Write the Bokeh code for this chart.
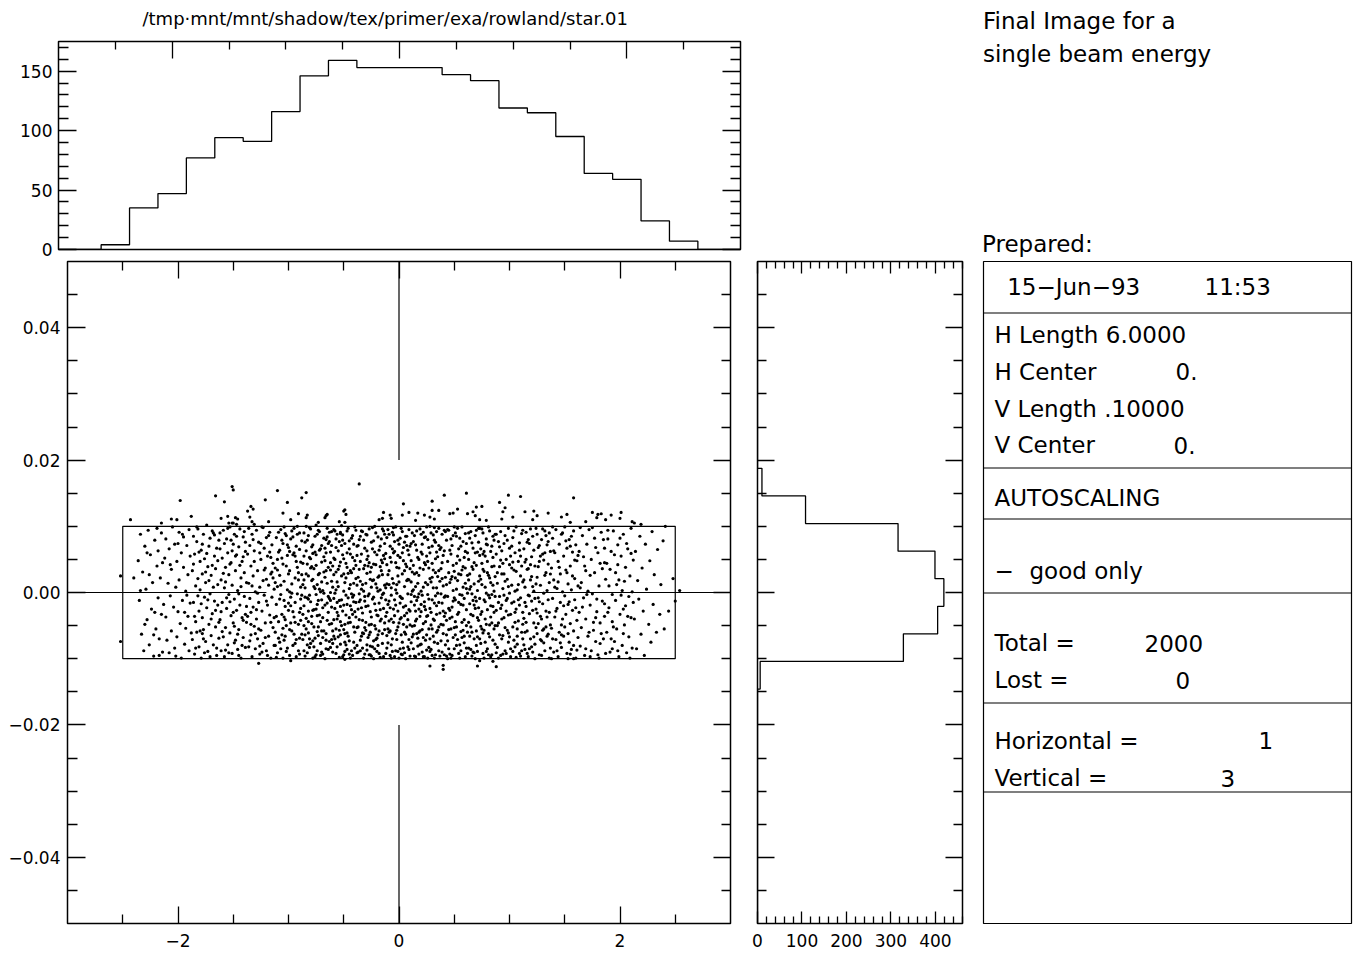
from bokeh.plotting import figure
from bokeh.layouts import column, row
from bokeh.models import Range1d, LinearAxis, FixedTicker, CustomJSTickFormatter
from bokeh.core.properties import value
from bokeh.embed import file_html
from bokeh.resources import INLINE

FONT = "DejaVu Sans"

# ---------------- data ----------------
plot_title = "/tmp·mnt/mnt/shadow/tex/primer/exa/rowland/star.01"
header_lines = ["Final Image for a", "single beam energy"]
prepared_label = "Prepared:"
info_date = "15−Jun−93"
info_time = "11:53"
info_labels = ["H Length 6.0000", "H Center", "V Length .10000", "V Center", "AUTOSCALING",
               "−", "Total =", "Lost =", "Horizontal =", "Vertical ="]
info_values = ["", "0.", "", "0.", "", "good only", "2000", "0", "1", "3"]

# top histogram (horizontal coordinate)
x_bin_centers = [-3.0, -2.75, -2.5, -2.25, -2.0, -1.75, -1.5, -1.25, -1.0, -0.75, -0.5, -0.25, 0.0,
                 0.25, 0.5, 0.75, 1.0, 1.25, 1.5, 1.75, 2.0, 2.25, 2.5, 2.75, 3.0]
x_bin_counts = [0, 0, 4, 35, 47, 77, 94, 91, 116, 146, 159, 153, 153, 153, 147, 142, 119, 115, 95, 64,
                59, 24, 7, 0, 0]
x_bin_width = 0.25

# right histogram (vertical coordinate)
y_bin_centers = [-0.05, -0.045833, -0.041667, -0.0375, -0.033333, -0.029167, -0.025, -0.020833,
                 -0.016667, -0.0125, -0.008333, -0.004167, 0.0, 0.004167, 0.008333, 0.0125, 0.016667,
                 0.020833, 0.025, 0.029167, 0.033333, 0.0375, 0.041667, 0.045833, 0.05]
y_bin_counts = [0, 0, 0, 0, 0, 0, 0, 0, 0, 6, 328, 405, 419, 399, 316, 108, 10, 0, 0, 0, 0, 0, 0, 0, 0]
y_bin_width = 0.0041667

# plot limits (H length 6, V length 0.1, centred on 0)
h_limits = [-3.0, 3.0]
v_limits = [-0.05, 0.05]
# source footprint box and crosshair gaps
box_x = [-2.5, 2.5]
box_y = [-0.01, 0.01]
cross_x_gap = 1.2
cross_y_gap = 0.02

# ray positions: x in units of 0.01, y in units of 0.0001
scatter_points = [
(-252,25),(-252,-74),(-240,22),(-243,110),
(-236,48),(-235,-12),(-234,88),(-233,-63),(-232,31),(-231,-88),(-230,70),(-229,5),(-228,-41),(-227,94),(-226,-79),(-225,57),(-224,-25),(-223,15),(-222,-96),(-221,79),(-220,-55),(-219,40),(-218,-8),(-218,63),(-217,-70),(-216,22),(-215,-33),(-215,90),(-214,-90),(-214,45),(-213,-18),(-230,-48),(-226,27),(-222,-64),(-219,97),(-217,-95),(-234,3),(-228,60),(-221,-30),(-215,105),
(-212,52),(-211,-37),(-211,81),(-210,-72),(-209,14),(-208,-91),(-208,66),(-207,-5),(-206,35),(-206,-58),(-205,99),(-204,-22),(-203,73),(-203,-84),(-202,8),(-201,47),(-201,-67),(-200,-29),(-199,91),(-199,19),(-198,-47),(-197,60),(-197,-99),(-196,-12),(-195,38),(-195,84),(-194,-78),(-193,2),(-193,-54),(-192,71),(-191,-36),(-191,27),(-190,95),(-190,-88),(-189,-16),(-189,55),(-188,-61),(-207,42),(-202,-96),(-196,88),(-192,-4),(-206,111),(-201,110),(-198,139),(-188,115),(-200,74),(-194,-30),
(-187,33),(-187,-71),(-186,85),(-186,-15),(-185,-93),(-185,58),(-184,10),(-184,-44),(-183,77),(-183,-60),(-182,21),(-182,96),(-181,-28),(-181,-82),(-180,47),(-180,4),(-179,-99),(-179,64),(-178,-38),(-178,28),(-177,88),(-177,-56),(-176,-7),(-176,51),(-175,-74),(-175,15),(-174,102),(-174,-23),(-173,39),(-173,-89),(-172,70),(-172,-48),(-171,-2),(-171,82),(-170,-65),(-170,26),(-169,-32),(-169,93),(-168,8),(-168,-79),(-167,55),(-167,-13),(-166,146),(-166,-52),(-166,36),(-165,-95),(-165,67),(-164,-19),(-164,12),(-163,-69),(-163,79),(-186,43),(-184,-84),(-182,-5),(-180,-58),(-178,73),(-176,-91),(-174,59),(-172,18),(-170,-40),(-168,90),(-166,-27),(-164,48),(-185,-36),(-181,61),(-177,-70),(-173,-11),(-169,41),(-165,-84),(-183,99),(-179,-17),(-175,31),(-171,-97),(-167,87),(-163,-45),(-178,-62),
(-161,112),(-158,137),(-155,115),(-154,105),(-151,160),(-151,105),(-150,155),(-150,105),(-148,113),(-147,103),(-146,111),
(-162,-41),(-162,66),(-161,-88),(-161,19),(-160,52),(-160,-15),(-159,-67),(-159,94),(-158,7),(-158,-97),(-157,38),(-157,-53),(-156,81),(-156,-24),(-155,-79),(-155,60),(-154,-3),(-154,27),(-153,-61),(-153,99),(-152,-35),(-152,45),(-151,-92),(-151,11),(-150,73),(-150,-46),(-149,-10),(-149,88),(-148,-72),(-148,33),(-147,-27),(-147,57),(-146,-86),(-146,3),(-145,69),(-145,-56),(-144,-19),(-144,96),(-143,22),(-143,-99),(-142,47),(-142,-38),(-141,-68),(-141,84),(-140,-6),(-140,30),(-139,-83),(-139,62),(-138,-45),(-138,15),(-162,90),(-160,-59),(-158,74),(-156,-8),(-154,-91),(-152,79),(-150,-30),(-148,55),(-146,-63),(-144,41),(-142,-80),(-140,92),(-138,-21),(-161,-29),(-159,29),(-157,-87),(-155,97),(-153,-14),(-151,63),(-149,-51),(-147,85),(-145,-95),(-143,9),(-141,-42),(-139,76),(-157,16),(-153,43),(-149,-76),(-145,-2),(-141,54),(-139,-33),
(-137,123),(-135,114),(-134,130),(-133,107),(-132,126),(-131,103),(-121,140),(-118,107),(-127,-107),
(-137,58),(-137,-36),(-136,-82),(-136,14),(-135,71),(-135,-9),(-134,-64),(-134,40),(-133,-97),(-133,88),(-132,-22),(-132,25),(-131,-51),(-131,63),(-130,1),(-130,-85),(-129,94),(-129,-40),(-128,33),(-128,-70),(-127,76),(-127,-15),(-126,8),(-126,-93),(-125,50),(-125,-57),(-124,-28),(-124,99),(-123,18),(-123,-77),(-122,67),(-122,-4),(-121,-46),(-121,37),(-120,-88),(-120,83),(-119,-19),(-119,55),(-118,-66),(-118,11),(-117,91),(-117,-34),(-116,28),(-116,-99),(-115,-7),(-115,72),(-114,-53),(-114,44),(-113,-80),(-113,5),(-136,97),(-134,-30),(-132,80),(-130,-62),(-128,-1),(-126,60),(-124,-90),(-122,34),(-120,-13),(-118,86),(-116,-45),(-114,22),(-135,-73),(-131,47),(-127,-55),(-123,98),(-119,-95),(-115,31),(-133,10),(-129,-26),(-125,74),(-121,-68),(-117,61),(-113,-38),(-126,-81),(-120,20),(-116,53),(-134,-48),
(-110,154),(-105,120),(-101,136),(-98,110),(-91,119),(-88,143),(-98,-103),
(-112,-60),(-112,37),(-111,83),(-111,-18),(-110,-91),(-110,9),(-109,61),(-109,-44),(-108,-75),(-108,26),(-107,95),(-107,-3),(-106,-33),(-106,52),(-105,-99),(-105,74),(-104,-12),(-104,17),(-103,-66),(-103,89),(-102,40),(-102,-50),(-101,-84),(-101,4),(-100,68),(-100,-27),(-99,-95),(-99,33),(-98,81),(-98,-7),(-97,-58),(-97,13),(-96,57),(-96,-80),(-95,-37),(-95,97),(-94,22),(-94,-15),(-93,-71),(-93,47),(-92,88),(-92,-2),(-91,-48),(-91,30),(-90,-93),(-90,65),(-89,-24),(-89,8),(-88,-63),(-88,78),(-111,-36),(-109,91),(-107,-85),(-105,43),(-103,-21),(-101,72),(-99,-56),(-97,-1),(-95,60),(-93,-97),(-91,19),(-89,-42),(-110,50),(-108,-10),(-106,-64),(-104,99),(-102,-89),(-100,28),(-98,-46),(-96,84),(-94,-77),(-92,38),(-90,-30),(-88,-4),(-112,15),(-109,-69),(-106,79),(-103,-41),(-100,-16),(-97,93),(-94,55),(-91,-88),(-88,27),(-111,-98),(-108,64),(-105,-54),(-102,86),(-99,1),(-96,-29),(-93,70),(-90,-69),(-89,46),(-112,-80),(-107,11),(-104,-37),(-101,56),(-98,-20),(-95,-63),(-92,100),(-89,-10),(-110,34),(-104,-72),(-99,62),(-94,-45),(-90,90),
(-84,151),(-84,113),(-83,117),(-75,102),(-73,106),(-67,113),(-66,116),(-65,118),
(-87,44),(-87,-71),(-86,-20),(-86,90),(-85,7),(-85,-96),(-84,63),(-84,-39),(-83,-8),(-83,79),(-82,-61),(-82,25),(-81,98),(-81,-83),(-80,-14),(-80,51),(-79,-47),(-79,18),(-78,-99),(-78,72),(-77,-26),(-77,36),(-76,85),(-76,-69),(-75,-3),(-75,57),(-74,-88),(-74,12),(-73,-52),(-73,94),(-72,29),(-72,-34),(-71,-77),(-71,66),(-70,-11),(-70,46),(-69,-93),(-69,3),(-68,82),(-68,-58),(-67,-19),(-67,23),(-66,-85),(-66,60),(-65,-42),(-65,97),(-64,-6),(-64,38),(-63,-74),(-63,77),
(-87,-33),(-86,55),(-85,-64),(-84,28),(-83,-91),(-82,86),(-81,-4),(-80,-77),(-79,69),(-78,-27),(-77,9),(-76,-97),(-75,41),(-74,-59),(-73,-12),(-72,92),(-71,-44),(-70,16),(-69,-68),(-68,54),(-67,-100),(-66,33),(-65,-16),(-64,74),(-63,-48),
(-87,12),(-86,-88),(-85,76),(-84,-55),(-83,43),(-82,-10),(-81,-70),(-80,96),(-79,-36),(-78,20),(-77,-82),(-76,61),(-75,-25),(-74,88),(-73,-65),(-72,5),(-71,-95),(-70,71),(-69,-38),(-68,-1),(-67,48),(-66,-62),(-65,14),(-64,-86),(-63,91),
(-86,-50),(-84,100),(-82,-28),(-80,37),(-78,-73),(-76,6),(-74,-18),(-72,64),(-70,-90),(-68,31),(-66,80),(-64,-30),(-85,-7),(-81,53),(-77,-52),(-73,27),(-69,-23),(-65,84),(-83,-79),(-79,39),(-75,-94),(-71,1),(-67,67),(-63,-9),(-86,19),(-82,-44),(-78,59),(-74,-35),(-70,-58),(-66,-72),(-62,45),
(-54,107),(-50,123),(-49,125),(-49,106),(-48,118),(-49,-101),
(-62,-83),(-62,34),(-61,71),(-61,-22),(-60,-58),(-60,8),(-59,95),(-59,-41),(-58,-1),(-58,50),(-57,-92),(-57,81),(-56,-30),(-56,16),(-55,-67),(-55,63),(-54,-12),(-54,40),(-53,-78),(-53,89),(-52,25),(-52,-50),(-51,-97),(-51,57),(-50,-19),(-50,2),(-49,74),(-49,-62),(-48,-34),(-48,44),(-47,93),(-47,-86),(-46,-8),(-46,29),(-45,-73),(-45,66),(-44,-45),(-44,12),(-43,82),(-43,-26),(-42,-95),(-42,53),(-41,-4),(-41,36),(-40,-60),(-40,99),(-39,-15),(-39,21),(-38,-80),(-38,70),
(-62,61),(-61,-47),(-60,-90),(-59,27),(-58,-70),(-57,4),(-56,88),(-55,-35),(-54,-98),(-53,46),(-52,-11),(-51,79),(-50,-56),(-49,15),(-48,-79),(-47,-18),(-46,97),(-45,-38),(-44,58),(-43,-88),(-42,-7),(-41,73),(-40,-29),(-39,41),(-38,-53),
(-62,-12),(-61,92),(-60,40),(-59,-66),(-58,-24),(-57,68),(-56,-82),(-55,9),(-54,77),(-53,-44),(-52,101),(-51,-28),(-50,51),(-49,-89),(-48,22),(-47,-61),(-46,-46),(-45,6),(-44,-99),(-43,30),(-42,86),(-41,-75),(-40,48),(-39,-37),(-38,11),
(-61,17),(-59,-9),(-57,-55),(-55,35),(-53,-21),(-51,87),(-49,-75),(-47,60),(-45,-93),(-43,-2),(-41,-52),(-39,94),(-60,-77),(-56,-15),(-52,71),(-48,-4),(-44,33),(-40,-84),(-58,93),(-54,-57),(-50,28),(-46,-66),(-42,-33),(-38,-91),
(-62,0),(-59,52),(-56,-40),(-53,-64),(-50,-94),(-47,38),(-44,-20),(-41,14),(-38,56),(-61,-71),(-57,31),(-53,91),(-49,-48),(-45,78),(-41,-14),
(-36,164),(-18,110),(-15,112),(-14,121),
(-37,-52),(-37,23),(-36,80),(-36,-14),(-35,-88),(-35,47),(-34,5),(-34,-66),(-33,92),(-33,-31),(-32,-99),(-32,36),(-31,67),(-31,-6),(-30,-45),(-30,14),(-29,-79),(-29,87),(-28,-20),(-28,55),(-27,-94),(-27,-2),(-26,31),(-26,-60),(-25,76),(-25,-37),(-24,-10),(-24,98),(-23,-73),(-23,19),(-22,-50),(-22,61),(-21,-27),(-21,42),(-20,-89),(-20,7),(-19,84),(-19,-64),(-18,-16),(-18,25),(-17,-98),(-17,70),(-16,-40),(-16,49),(-15,-3),(-15,-77),(-14,93),(-14,-24),(-13,11),(-13,-56),
(-37,71),(-36,-41),(-35,-11),(-34,58),(-33,-84),(-32,2),(-31,-53),(-30,88),(-29,29),(-28,-68),(-27,45),(-26,-29),(-25,-96),(-24,66),(-23,-7),(-22,-85),(-21,13),(-20,57),(-19,-35),(-18,-92),(-17,39),(-16,81),(-15,-62),(-14,-1),(-13,51),
(-37,-90),(-36,35),(-35,-72),(-34,-23),(-33,12),(-32,79),(-31,-93),(-30,-57),(-29,63),(-28,-5),(-27,96),(-26,20),(-25,-48),(-24,-82),(-23,43),(-22,-17),(-21,90),(-20,-69),(-19,2),(-18,64),(-17,-43),(-16,-8),(-15,27),(-14,-97),(-13,74),
(-36,-2),(-34,93),(-32,-62),(-30,-21),(-28,40),(-26,-81),(-24,18),(-22,100),(-20,-34),(-18,-58),(-16,33),(-14,56),(-35,85),(-31,-13),(-27,-49),(-23,-100),(-19,23),(-15,45),(-33,-42),(-29,-87),(-25,8),(-21,-71),(-17,-26),(-13,-46),
(-37,-25),(-33,-61),(-29,50),(-25,38),(-21,-55),(-17,4),(-13,88),(-35,17),(-31,41),(-27,-64),(-23,78),(-19,-80),(-15,96),(-26,-94),
(-8,117),(-7,112),(3,117),(4,134),(9,121),
(-12,-36),(-12,59),(-11,13),(-11,-84),(-10,95),(-10,-18),(-9,-60),(-9,33),(-8,-95),(-8,70),(-7,-4),(-7,46),(-6,-70),(-6,21),(-5,87),(-5,-45),(-4,-11),(-4,62),(-3,-88),(-3,4),(-2,38),(-2,-57),(-1,-28),(-1,79),(0,-99),(0,16),(1,53),(1,-40),(2,-8),(2,97),(3,-75),(3,28),(4,-22),(4,68),(5,-91),(5,9),(6,43),(6,-63),(7,-31),(7,85),(8,-2),(8,-82),(9,57),(9,19),(10,-49),(10,-96),(11,74),(11,-14),(12,31),(12,-67),
(-12,-92),(-11,42),(-10,-55),(-9,88),(-8,-23),(-7,7),(-6,-89),(-5,60),(-4,-35),(-3,99),(-2,-71),(-1,25),(0,-46),(1,82),(2,-93),(3,-9),(4,48),(5,-60),(6,-20),(7,71),(8,-41),(9,-86),(10,36),(11,-3),(12,90),
(-12,7),(-11,-65),(-10,27),(-9,-13),(-8,53),(-7,-79),(-6,91),(-5,-25),(-4,-97),(-3,45),(-2,12),(-1,-52),(0,73),(1,-16),(2,-38),(3,60),(4,-84),(5,33),(6,-100),(7,-52),(8,20),(9,95),(10,-28),(11,-76),(12,2),
(-11,83),(-9,-43),(-7,-99),(-5,14),(-3,-62),(-1,56),(1,-85),(3,92),(5,-35),(7,18),(9,-71),(11,48),(-12,-11),(-8,-58),(-4,77),(0,37),(4,-48),(8,64),(12,-51),(-10,-76),(-6,66),(-2,-1),(2,-64),(6,85),(10,70),
(-11,-30),(-7,-40),(-3,-19),(1,-6),(5,76),(9,-26),(-9,12),(-5,98),(-1,-89),(3,-94),(7,39),(11,16),
(15,109),(17,120),(23,117),(28,114),(30,138),(30,124),(32,111),(36,124),(28,-111),
(13,41),(13,-63),(14,-19),(14,86),(15,-97),(15,9),(16,64),(16,-40),(17,-7),(17,-81),(18,50),(18,26),(19,-58),(19,96),(20,-29),(20,2),(21,-90),(21,73),(22,35),(22,-47),(23,-14),(23,83),(24,-72),(24,15),(25,55),(25,-36),(26,-99),(26,-3),(27,68),(27,-55),(28,21),(28,-24),(29,90),(29,-86),(30,-11),(30,44),(31,-66),(31,7),(32,79),(32,-42),(33,-94),(33,30),(34,-20),(34,61),(35,-77),(35,-1),(36,97),(36,-52),(37,17),(37,-31),
(13,-85),(14,28),(15,72),(16,-12),(17,53),(18,-93),(19,-36),(20,88),(21,-4),(22,-68),(23,45),(24,-26),(25,99),(26,12),(27,-83),(28,60),(29,-49),(30,-95),(31,34),(32,-16),(33,76),(34,-60),(35,24),(36,-88),(37,65),
(13,4),(14,-50),(15,-28),(16,93),(17,-69),(18,-2),(19,37),(20,-78),(21,58),(22,-97),(23,-21),(24,84),(25,-64),(26,47),(27,-10),(28,-89),(29,16),(30,70),(31,-40),(32,-75),(33,-5),(34,92),(35,-57),(36,33),(37,-96),
(14,-96),(16,30),(18,-60),(20,61),(22,8),(24,-44),(26,80),(28,-70),(30,23),(32,98),(34,-33),(36,-15),(13,77),(17,14),(21,-56),(25,-87),(29,-30),(33,51),(15,-43),(19,-79),(23,-97),(27,37),(31,87),(35,54),
(14,-6),(18,-25),(22,91),(26,-35),(30,-55),(34,7),(16,-62),(20,-18),(24,42),(28,100),(32,-99),(36,71),
(41,147),(46,119),(49,120),(53,126),(61,150),(62,119),(40,-110),(40,-116),
(38,-73),(38,36),(39,88),(39,-16),(40,-49),(40,10),(41,-94),(41,63),(42,-31),(42,23),(43,79),(43,-64),(44,-6),(44,47),(45,-85),(45,94),(46,-39),(46,15),(47,-99),(47,58),(48,-22),(48,71),(49,-68),(49,3),(50,32),(50,-53),(51,90),(51,-11),(52,-80),(52,44),(53,-33),(53,18),(54,-92),(54,66),(55,-3),(55,82),(56,-59),(56,27),(57,-45),(57,99),(58,-19),(58,8),(59,-76),(59,53),(60,-97),(60,37),(61,-26),(61,74),(62,-60),(62,-1),
(38,-2),(39,-90),(40,56),(41,-36),(42,-79),(43,12),(44,95),(45,-24),(46,64),(47,-55),(48,-95),(49,41),(50,-8),(51,22),(52,85),(53,-71),(54,-15),(55,49),(56,-88),(57,-4),(58,77),(59,-41),(60,14),(61,-84),(62,60),
(38,68),(39,21),(40,-62),(41,94),(42,-5),(43,-42),(44,-73),(45,30),(46,-93),(47,81),(48,-37),(49,-13),(50,99),(51,-64),(52,5),(53,55),(54,-30),(55,-99),(56,70),(57,-68),(58,39),(59,-9),(60,89),(61,-50),(62,26),
(39,45),(41,-7),(43,-96),(45,-56),(47,20),(49,86),(51,-44),(53,97),(55,-79),(57,34),(59,-66),(61,6),(38,-48),(42,92),(46,-27),(50,-85),(54,28),(58,-57),(62,-92),(40,-28),(44,-100),(48,24),(52,-52),(56,-18),(60,62),
(67,122),(69,116),(70,129),(73,110),(75,130),(79,109),(73,-103),(71,-111),(85,-104),
(63,50),(63,-84),(64,-17),(64,28),(65,92),(65,-52),(66,-2),(66,-96),(67,67),(67,-35),(68,13),(68,-70),(69,86),(69,-24),(70,-58),(70,41),(71,3),(71,-89),(72,76),(72,-42),(73,-9),(73,56),(74,-77),(74,20),(75,96),(75,-29),(76,-61),(76,35),(77,-99),(77,62),(78,-14),(78,8),(79,81),(79,-48),(80,-85),(80,47),(81,-4),(81,26),(82,-67),(82,93),(83,-37),(83,15),(84,70),(84,-94),(85,-21),(85,53),(86,-55),(86,2),(87,88),(87,-78),
(63,19),(64,-66),(65,-33),(66,75),(67,-90),(68,45),(69,-7),(70,-80),(71,61),(72,-23),(73,97),(74,-51),(75,12),(76,-92),(77,32),(78,-40),(79,-1),(80,72),(81,-62),(82,22),(83,-97),(84,39),(85,85),(86,-30),(87,-6),
(63,-45),(64,82),(65,9),(66,-60),(67,35),(68,-19),(69,-100),(70,94),(71,-38),(72,17),(73,-70),(74,66),(75,-55),(76,90),(77,-11),(78,55),(79,-89),(80,-26),(81,99),(82,-8),(83,62),(84,-46),(85,-72),(86,40),(87,24),
(64,5),(66,39),(68,-91),(70,-13),(72,97),(74,-33),(76,58),(78,-75),(80,30),(82,-49),(84,-3),(86,79),(65,-86),(69,60),(73,25),(77,-57),(81,-94),(85,11),(63,90),(67,-12),(71,-67),(75,44),(79,73),(83,-20),(87,-50),
(91,136),(93,111),(94,122),(96,128),(99,147),(103,114),(110,145),(88,-112),
(88,-27),(88,58),(89,-83),(89,14),(90,77),(90,-46),(91,-6),(91,39),(92,-95),(92,92),(93,-19),(93,63),(94,-65),(94,6),(95,28),(95,-38),(96,86),(96,-88),(97,-12),(97,50),(98,-57),(98,20),(99,97),(99,-75),(100,-1),(100,42),(101,-33),(101,-97),(102,70),(102,11),(103,-52),(103,83),(104,-14),(104,34),(105,-82),(105,60),(106,-25),(106,99),(107,4),(107,-66),(108,47),(108,-43),(109,-92),(109,75),(110,-8),(110,25),(111,-60),(111,89),(112,-30),(112,16),
(88,88),(89,-50),(90,-99),(91,69),(92,-24),(93,-70),(94,44),(95,-4),(96,17),(97,-92),(98,79),(99,-34),(100,-67),(101,55),(102,-16),(103,-89),(104,93),(105,-45),(106,32),(107,-78),(108,-11),(109,64),(110,-96),(111,40),(112,-70),
(89,30),(91,-64),(93,-40),(95,74),(97,-28),(99,9),(101,-85),(103,46),(105,2),(107,-55),(109,-19),(111,-88),(88,-91),(92,49),(96,-53),(100,67),(104,-72),(108,12),(112,94),(90,-15),(94,-93),(98,-9),(102,37),(106,-98),(110,55),(112,-48),(93,28),(99,-61),(105,-30),
(114,122),(121,110),(122,123),(125,116),(135,120),
(113,-39),(113,66),(114,8),(114,-86),(115,91),(115,-21),(116,-58),(116,35),(117,-4),(117,-97),(118,74),(118,-32),(119,19),(119,-70),(120,54),(120,-13),(121,-90),(121,85),(122,-46),(122,2),(123,40),(123,-78),(124,-25),(124,97),(125,-62),(125,23),(126,68),(126,-8),(127,-94),(127,47),(128,-36),(128,11),(129,80),(129,-73),(130,-17),(130,58),(131,-55),(131,-1),(132,93),(132,-88),(133,30),(133,-28),(134,-66),(134,72),(135,-11),(135,43),(136,-99),(136,15),(137,62),(137,-49),
(113,19),(114,-60),(115,50),(116,-92),(117,80),(118,-5),(119,42),(120,-82),(121,-27),(122,64),(123,-100),(124,13),(125,88),(126,-47),(127,-14),(128,55),(129,-40),(130,96),(131,-76),(132,26),(133,-52),(134,3),(135,77),(136,-30),(137,-84),
(113,-79),(115,-45),(117,36),(119,96),(121,9),(123,-9),(125,-31),(127,71),(129,-95),(131,49),(133,86),(135,-63),(137,28),(114,-15),(118,-85),(122,-67),(126,39),(130,-57),(134,-37),(116,76),(120,24),(124,-53),(128,-71),(132,60),(136,90),(114,46),
(147,114),(152,118),(155,106),(158,143),(153,-100),(158,-100),
(138,-54),(138,37),(139,82),(139,-9),(140,-90),(140,19),(141,60),(141,-37),(142,-71),(142,95),(143,6),(143,-24),(144,47),(144,-97),(145,-60),(145,73),(146,-15),(146,28),(147,-83),(147,88),(148,-40),(148,1),(149,55),(149,-66),(150,-5),(150,99),(151,-33),(151,34),(152,-92),(152,67),(153,-18),(153,13),(154,-75),(154,80),(155,-47),(155,40),(156,4),(156,-86),(157,61),(157,-27),(158,93),(158,-58),(159,21),(159,-11),(160,-99),(160,72),(161,-42),(161,48),(162,-68),(162,10),
(138,-100),(140,63),(142,-28),(144,16),(146,-76),(148,90),(150,-52),(152,30),(154,-14),(156,85),(158,-80),(160,-23),(162,56),(139,-70),(141,8),(143,-88),(145,38),(147,-49),(149,-20),(151,78),(153,-62),(155,-93),(157,25),(159,49),(161,-87),(139,99),(147,-64),(155,70),
(169,107),(175,121),(179,113),(180,118),(183,119),(187,110),
(163,-30),(163,62),(164,-81),(165,15),(165,-53),(166,86),(167,-8),(168,-95),(168,40),(169,-40),(170,73),(171,-66),(171,2),(172,95),(173,-19),(174,50),(174,-88),(175,-2),(176,-57),(177,30),(177,82),(178,-74),(179,-29),(180,60),(181,-99),(181,10),(182,-46),(183,91),(184,-13),(184,36),(185,-70),(186,67),(186,-36),(187,-92),(187,20),
(164,7),(166,-22),(167,54),(169,-85),(170,-3),(172,-60),(173,26),(175,98),(176,-45),(178,68),(179,-10),(180,-94),(182,44),(183,-62),(185,80),(186,-17),(164,98),(169,33),(173,-97),(178,-38),(182,-77),(186,45),
(192,117),(200,112),(201,121),(211,107),
(188,-60),(188,44),(189,81),(190,-23),(190,10),(191,-90),(192,62),(193,-44),(193,-3),(194,93),(195,-74),(196,30),(196,-12),(197,-55),(198,72),(199,-97),(199,19),(200,-33),(201,55),(202,-80),(202,3),(203,88),(204,-49),(205,38),(205,-20),(206,-91),(207,66),(208,-6),(208,-67),(209,25),(210,97),(210,-38),(211,-84),(212,49),(212,-15),
(189,-30),(191,35),(192,-70),(194,-52),(195,57),(197,12),(198,-88),(200,82),(201,-4),(203,-62),(204,17),(206,74),(207,-36),(209,-99),(210,59),(211,1),(189,94),(193,-85),(198,42),(203,-25),
(213,105),(219,103),
(213,-40),(214,62),(215,-85),(216,18),(217,-10),(218,85),(219,-63),(220,37),(221,-28),(222,-95),(223,73),(224,5),(226,-48),(227,48),(228,-75),(229,92),(230,-18),(231,27),(233,-60),(234,65),(236,-33),(237,12),
(241,100),(254,3),(250,-13),(248,21),(240,-55),(239,78),(244,-28),
]
scatter_x = [p[0] / 100.0 for p in scatter_points]
scatter_y = [p[1] / 10000.0 for p in scatter_points]

# ---------------- helpers ----------------
def base_fig(xr, yr, fw, fh, bl, br, bt, bb, outline=1.5):
    p = figure(x_range=xr, y_range=yr, frame_width=fw, frame_height=fh,
               min_border_left=bl, min_border_right=br, min_border_top=bt, min_border_bottom=bb,
               x_axis_location=None, y_axis_location=None,
               toolbar_location=None, output_backend="svg")
    p.title.text = ""
    p.title.visible = False
    p.xgrid.visible = False
    p.ygrid.visible = False
    p.background_fill_color = "white"
    p.border_fill_color = "white"
    if outline:
        p.outline_line_color = "black"
        p.outline_line_width = outline
    else:
        p.outline_line_color = None
    return p


def add_axis(p, side, major, minor, t_in, m_in, labels=False, code=None, standoff=6, size="17px"):
    ax = LinearAxis(ticker=FixedTicker(ticks=major, minor_ticks=minor))
    ax.axis_line_color = None
    ax.major_tick_in = int(t_in)
    ax.major_tick_out = 0
    ax.minor_tick_in = int(m_in)
    ax.minor_tick_out = 0
    ax.major_tick_line_color = "black"
    ax.minor_tick_line_color = "black"
    ax.major_tick_line_width = 1.3
    ax.minor_tick_line_width = 1.3
    if labels:
        ax.major_label_text_font = FONT
        ax.major_label_text_font_size = size
        ax.major_label_text_color = "black"
        ax.major_label_standoff = standoff
        if code:
            ax.formatter = CustomJSTickFormatter(code=code)
    else:
        ax.formatter = CustomJSTickFormatter(code="return '';")
        ax.major_label_text_font_size = "0px"
        ax.major_label_standoff = 0
    p.add_layout(ax, side)
    return ax


def minor_between(lo, hi, step, majors):
    out = []
    k = 0
    while True:
        v = round(lo + k * step, 6)
        if v > hi + 1e-9:
            break
        if all(abs(v - m) > 1e-9 for m in majors):
            out.append(v)
        k += 1
    return out

NUM_X = "return (tick < 0 ? '\u2212' : '') + Math.abs(tick).toFixed(0);"
NUM_Y = "return (tick < 0 ? '\u2212' : '') + Math.abs(tick).toFixed(2);"

h_major = [-2, 0, 2]
h_minor = minor_between(-2.5, 2.5, 0.5, h_major)
v_major = [-0.04, -0.02, 0.0, 0.02, 0.04]
v_minor = minor_between(-0.045, 0.045, 0.005, v_major)

# ---------------- title strip ----------------
title_fig = base_fig(Range1d(0, 750), Range1d(33, 0), 750, 33, 0, 0, 0, 0, outline=0)
title_fig.text(x=[84], y=[17.5], text=[plot_title], text_font=value(FONT), text_font_size="18px",
               text_color="black", text_baseline="middle", text_align="left")

# ---------------- top histogram ----------------
top_ymax = 1.1 * max(x_bin_counts)
top = base_fig(Range1d(*h_limits), Range1d(0, top_ymax), 682, 208, 58, 10, 8, 11)
add_axis(top, "above", h_major, h_minor, 17, 8)
cnt_major = [0, 50, 100, 150]
cnt_minor = minor_between(10, 170, 10, cnt_major)
add_axis(top, "left", cnt_major, cnt_minor, 18, 10, labels=True, code=NUM_X, standoff=6)
add_axis(top, "right", cnt_major, cnt_minor, 18, 10)
hx, hy = [], []
for c, n in zip(x_bin_centers, x_bin_counts):
    hx += [c - x_bin_width / 2, c + x_bin_width / 2]
    hy += [n, n]
top.line(hx, hy, line_color="black", line_width=1.3)

# ---------------- header texts ----------------
head = base_fig(Range1d(750, 1353), Range1d(260, 0), 603, 260, 0, 0, 0, 0, outline=0)
head.text(x=[982.5, 982.5, 981.5], y=[20.5, 53.0, 243.5],
          text=header_lines + [prepared_label],
          text_font=value(FONT), text_font_size="23px", text_color="black",
          text_baseline="middle", text_align="left")

# ---------------- main scatter ----------------
main = base_fig(Range1d(*h_limits), Range1d(*v_limits), 663, 662, 67, 20, 1, 30)
add_axis(main, "below", h_major, h_minor, 17, 9, labels=True, code=NUM_X, standoff=10)
add_axis(main, "above", h_major, h_minor, 17, 9)
add_axis(main, "left", v_major, v_minor, 18, 10, labels=True, code=NUM_Y, standoff=7)
add_axis(main, "right", v_major, v_minor, 17, 9)
main.quad(left=[box_x[0]], right=[box_x[1]], bottom=[box_y[0]], top=[box_y[1]],
          fill_color=None, line_color="black", line_width=1.2)
main.segment(x0=[h_limits[0], cross_x_gap, 0, 0], y0=[0, 0, v_limits[1], -cross_y_gap],
             x1=[-cross_x_gap, h_limits[1], 0, 0], y1=[0, 0, cross_y_gap, v_limits[0]],
             line_color="black", line_width=1.2)
main.scatter(scatter_x, scatter_y, size=3.2, marker="circle", fill_color="black", line_color=None)

# ---------------- right histogram ----------------
rh_xmax = 1.1 * max(y_bin_counts)
rh = base_fig(Range1d(0, rh_xmax), Range1d(*v_limits), 205, 662, 7, 13, 1, 30)
r_major = [0, 100, 200, 300, 400]
r_minor = minor_between(20, 460, 20, r_major)
add_axis(rh, "below", r_major, r_minor, 12, 7, labels=True, code=NUM_X, standoff=10)
add_axis(rh, "above", r_major, r_minor, 12, 7)
add_axis(rh, "left", v_major, v_minor, 17, 9)
add_axis(rh, "right", v_major, v_minor, 17, 9)
vx, vy = [], []
for c, n in zip(y_bin_centers, y_bin_counts):
    vy += [c - y_bin_width / 2, c + y_bin_width / 2]
    vx += [n, n]
rh.line(vx, vy, line_color="black", line_width=1.3)

# ---------------- info panel ----------------
info = base_fig(Range1d(983, 1351), Range1d(923, 261), 368, 662, 8, 2, 1, 30, outline=1.2)
dividers = [312.5, 467.5, 518.5, 592.5, 702.5, 791.5]
info.segment(x0=[983] * len(dividers), x1=[1351] * len(dividers), y0=dividers, y1=dividers,
             line_color="black", line_width=1.2)
row_mid = [334.5, 371, 408, 444.8, 497, 570, 642.7, 679.5, 740, 777.5]
val_x = [0, 1175, 0, 1173, 0, 1029, 1144, 1175, 1258, 1220]
tx = [1006.7, 1204] + [994] * len(info_labels)
ty = [286.6, 286.6] + row_mid
tt = [info_date, info_time] + info_labels
for v, xx, yy in zip(info_values, val_x, row_mid):
    if v:
        tx.append(xx)
        ty.append(yy)
        tt.append(v)
info.text(x=tx, y=ty, text=tt, text_font=value(FONT), text_font_size="23px",
          text_color="black", text_baseline="middle", text_align="left")

layout = column(row(column(title_fig, top), head), row(main, rh, info))
open("out.html", "w").write(file_html(layout, INLINE))
